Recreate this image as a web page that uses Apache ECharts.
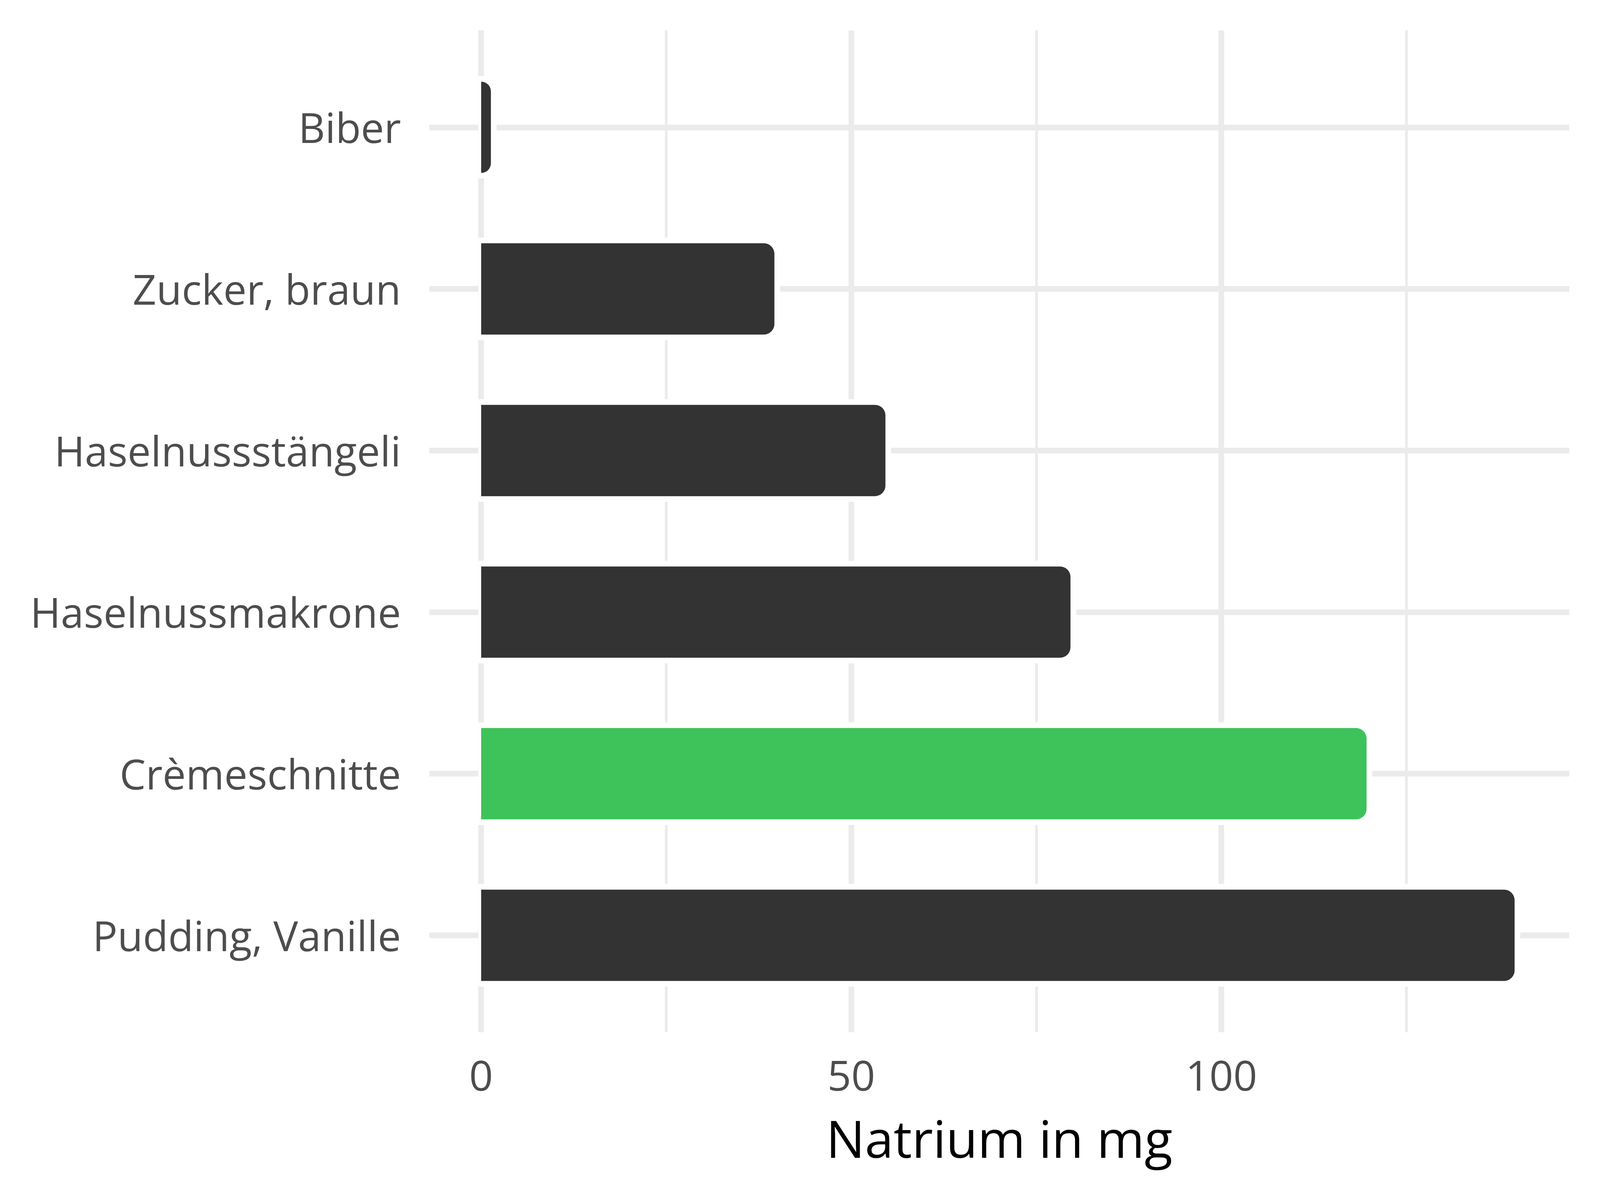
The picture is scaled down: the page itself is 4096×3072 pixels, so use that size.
<!DOCTYPE html>
<html>
<head>
<meta charset="utf-8">
<script src="https://cdn.jsdelivr.net/npm/echarts@6/dist/echarts.min.js"></script>
<style>
html,body{margin:0;padding:0;background:#ffffff;}
#c{width:4096px;height:3072px;}
</style>
</head>
<body>
<div id="c"></div>
<script>
// ---- data ----
const categories = ['Biber', 'Zucker, braun', 'Haselnussstängeli', 'Haselnussmakrone', 'Crèmeschnitte', 'Pudding, Vanille'];
const values = [1.7, 40, 55, 80, 120, 140];
const highlighted = 'Crèmeschnitte';
const tickLabels = ['0', '50', '100'];
const axisTitle = 'Natrium in mg';

// ---- styles ----
const FONT = '"Open Sans", sans-serif';
const DARK = '#333333';
const GREEN = '#3EC25A';
const GRID = '#EBEBEB';
const TEXT = '#4D4D4D';
const BAR_FRACTION = 0.6;   // bar thickness as share of a category band
const HALO = 7.25;          // white outline half-width (px)
const RADIUS = 27;          // visible corner radius (px)

const chart = echarts.init(document.getElementById('c'), null, {renderer: 'canvas', width: 4096, height: 3072});

function renderBar(params, api) {
  const idx = api.value(1);
  const v = api.value(0);
  const start = api.coord([0, idx]);
  const end = api.coord([v, idx]);
  const band = Math.abs(api.size([0, 1])[1]);
  const h = band * BAR_FRACTION;
  const x0 = start[0], x1 = end[0], yc = end[1];
  const fillW = Math.max(0, x1 - x0 - HALO);
  const color = categories[idx] === highlighted ? GREEN : DARK;
  return {
    type: 'group',
    children: [
      {
        type: 'rect',
        shape: {x: x0 - HALO, y: yc - h / 2 - HALO, width: x1 - x0 + 2 * HALO, height: h + 2 * HALO, r: [0, RADIUS + 2 * HALO, RADIUS + 2 * HALO, 0]},
        style: {fill: '#ffffff'}
      },
      {
        type: 'rect',
        shape: {x: x0, y: yc - h / 2 + HALO, width: fillW, height: h - 2 * HALO, r: [0, RADIUS, RADIUS, 0]},
        style: {fill: color}
      }
    ]
  };
}

const option = {
  animation: false,
  backgroundColor: '#ffffff',
  grid: [
    {left: 1231.7, width: 2842.5, top: 77.7, height: 2564.9},
    {left: 1099.1, width: 2918.2, top: 325.9, height: 2068.5}
  ],
  xAxis: [
    {
      gridIndex: 0, type: 'value', min: 0, max: 150, interval: 50,
      axisLine: {show: false}, axisTick: {show: false},
      axisLabel: {
        margin: 65, fontSize: 107, color: TEXT, fontFamily: FONT, showMaxLabel: false,
        formatter: function (v) { return tickLabels.indexOf(String(v)) >= 0 ? String(v) : ''; }
      },
      splitLine: {show: true, showMaxLine: false, lineStyle: {color: GRID, width: 14.5}},
      minorTick: {show: false, splitNumber: 2},
      minorSplitLine: {show: true, lineStyle: {color: GRID, width: 7}}
    },
    {
      gridIndex: 1, type: 'value', min: -7, max: 147,
      axisLine: {show: false}, axisTick: {show: false}, axisLabel: {show: false}, splitLine: {show: false},
      name: axisTitle, nameLocation: 'middle', nameGap: 466,
      nameTextStyle: {fontSize: 132, color: '#000000', fontFamily: FONT}
    }
  ],
  yAxis: [
    {gridIndex: 0, type: 'value', min: 0, max: 1, show: false},
    {
      gridIndex: 1, type: 'category', data: categories, inverse: true, boundaryGap: false,
      axisLine: {show: false}, axisTick: {show: false},
      axisLabel: {
        interval: 0, margin: 72.5, fontSize: 106, color: TEXT, fontFamily: FONT,
        formatter: function (v) { return '{l|' + v + '}'; },
        rich: {l: {fontSize: 106, color: TEXT, fontFamily: FONT, padding: [20, 0, 0, 0]}}
      },
      splitLine: {show: true, interval: 0, lineStyle: {color: GRID, width: 14.5}}
    }
  ],
  series: [
    {
      type: 'custom', xAxisIndex: 1, yAxisIndex: 1,
      renderItem: renderBar,
      encode: {x: 0, y: 1},
      data: values.map(function (v, i) { return [v, i]; })
    }
  ]
};
chart.setOption(option);
</script>
</body>
</html>
